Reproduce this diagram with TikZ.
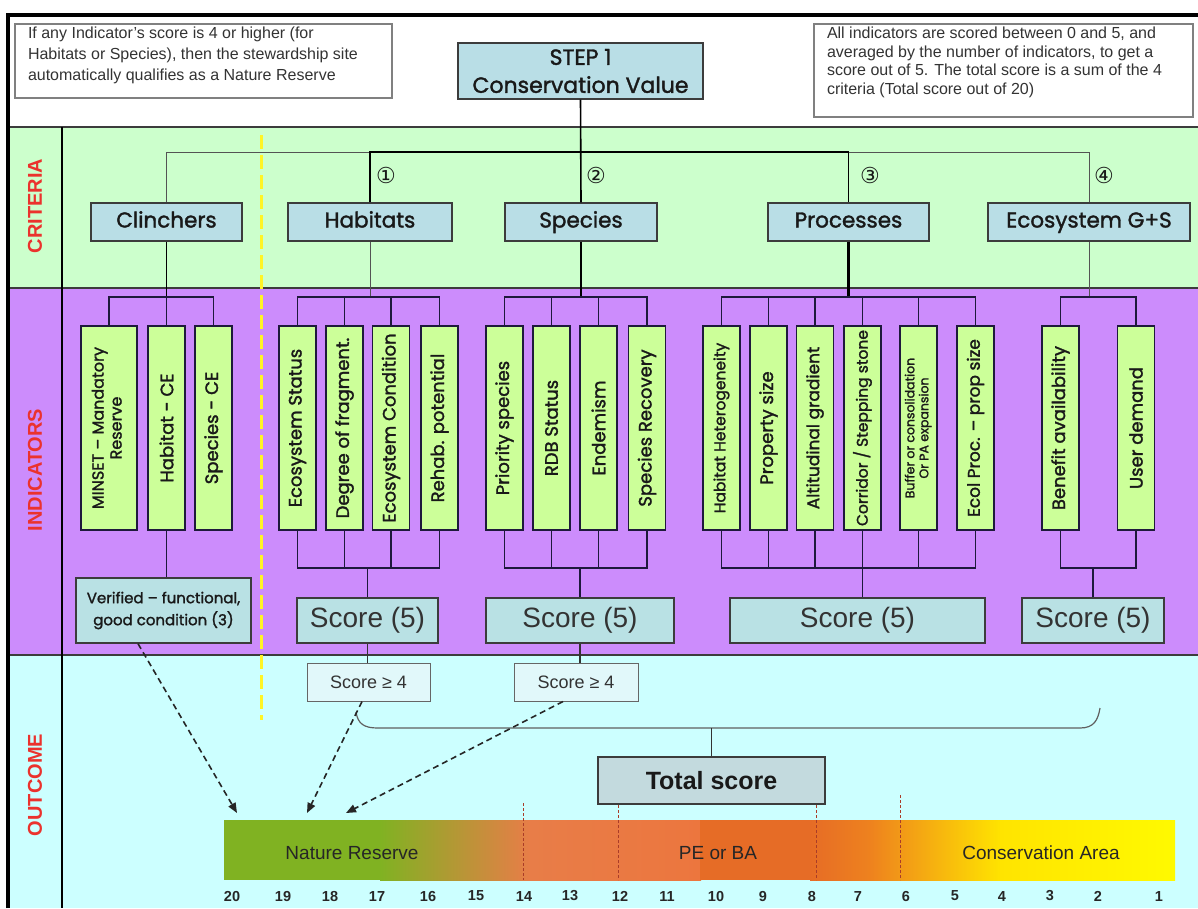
\documentclass[tikz,border=0pt]{standalone}
\usepackage{fontspec}
\setmainfont{Liberation Sans}
\newfontfamily\gothic{Poppins}[FakeBold=1.6]
\newfontfamily\djv{DejaVu Sans}
\usetikzlibrary{calc,arrows.meta}
\newcommand\fsz[2]{\fontsize{#1pt}{#2pt}\selectfont}
\definecolor{bandG}{RGB}{204,255,204}
\definecolor{bandP}{RGB}{204,140,252}
\definecolor{bandC}{RGB}{204,255,255}
\definecolor{critfill}{RGB}{185,222,230}
\definecolor{indfill}{RGB}{204,255,153}
\definecolor{scorefill}{RGB}{185,225,228}
\definecolor{sgfill}{RGB}{225,248,250}
\definecolor{totfill}{RGB}{195,218,222}
\definecolor{lblred}{RGB}{235,50,45}
\definecolor{boxline}{RGB}{60,60,60}
\definecolor{busline}{RGB}{30,25,60}
\definecolor{txt}{RGB}{25,25,25}
\definecolor{markc}{RGB}{170,60,40}
\definecolor{gA}{RGB}{128,178,34}
\definecolor{oA}{RGB}{232,125,72}
\definecolor{oB}{RGB}{236,118,62}
\definecolor{oC}{RGB}{230,108,38}
\definecolor{oD}{RGB}{238,130,30}
\definecolor{yA}{RGB}{255,228,0}
\definecolor{yB}{RGB}{255,250,0}
\begin{document}
\begin{tikzpicture}[x=1pt,y=-1pt,
 crit/.style={draw=boxline, line width=1.3pt, fill=critfill, inner sep=0pt, minimum height=38pt, text height=15pt, text depth=4pt, font=\gothic\fsz{21.5}{24}, text=txt},
 ind/.style={draw=busline, line width=1.3pt, fill=indfill, inner sep=0pt, minimum width=37pt, minimum height=204pt, font=\gothic\fsz{18}{19}, text=txt},
 score/.style={draw=boxline, line width=1.3pt, fill=scorefill, inner sep=0pt, minimum height=45pt, font=\fsz{28}{30}, text=black!80},
 sg/.style={draw=gray!80!black, line width=1pt, fill=sgfill, inner sep=0pt, minimum width=123pt, minimum height=38pt, font=\fsz{18}{20}, text=black!80},
 note/.style={draw=gray, line width=1.2pt, fill=white, inner xsep=13pt, inner ysep=0pt, font=\fsz{16}{19}, text=black!80},
 tbus/.style={draw=gray!65!black, line width=1pt},
 dbus/.style={draw=black, line width=1.6pt},
 kbus/.style={draw=black, line width=2.6pt},
 bus/.style={draw=busline, line width=1.6pt},
 darr/.style={draw=black!85, line width=1.6pt, dash pattern=on 6pt off 4pt, -{Triangle[length=10pt,width=8pt]}},
 lbl/.style={rotate=90, font=\bfseries\fsz{20}{22}, text=lblred},
 num/.style={font=\bfseries\fsz{14.5}{16}, text=black!85},
 barlbl/.style={font=\fsz{19}{21}, text=black!85},
 mk/.style={draw=markc, line width=1pt, dash pattern=on 3pt off 2pt},
 circ/.style={font=\djv\fsz{22}{24}, text=txt}
]
\useasboundingbox (0,0) rectangle (1198,908);
\fill[white] (0,0) rectangle (1198,908);
% bands
\fill[bandG] (8,127) rectangle (1198,288);
\fill[bandP] (8,288) rectangle (1198,655);
\fill[bandC] (8,655) rectangle (1198,908);
\draw[boxline, line width=1.2pt] (8,127) -- (1198,127);
\draw[boxline, line width=1.2pt] (8,288) -- (1198,288);
\draw[boxline, line width=1.2pt] (8,655) -- (1198,655);
\draw[black, line width=1.2pt] (62,127) -- (62,908);
\draw[line width=4pt] (8,908) -- (8,15) -- (1198,15);
% yellow dashed separator
\draw[yellow!85!white, line width=3pt, dash pattern=on 14pt off 6pt] (261,135) -- (261,720);
% side labels
\node[lbl] (lc) at (35,206) {CRITERIA};
\node[lbl] (li) at (35,470) {INDICATORS};
\node[lbl] (lo) at (35,785) {OUTCOME};
% notes
\node[note] (n1) at (203.5,61) {\begin{minipage}[c][74pt][t]{351pt}\vspace*{3pt}\fsz{16}{21}If any Indicator's score is 4 or higher (for\\Habitats or Species), then the stewardship site\\automatically qualifies as a Nature Reserve\end{minipage}};
\node[note] (n2) at (1003.5,70.5) {\begin{minipage}[c][93pt][t]{353pt}\vspace*{3pt}\fsz{16}{18.5}All indicators are scored between 0 and 5, and\\averaged by the number of indicators, to get a\\score out of 5. The total score is a sum of the 4\\criteria (Total score out of 20)\end{minipage}};
% step 1
\node[crit, minimum width=245pt, minimum height=56pt, text height=, text depth=, align=center, font=\gothic\fsz{22}{28}] (step) at (580.5,71) {STEP 1\\Conservation Value};
% criteria
\node[crit, minimum width=151pt] (clin) at (166.5,222) {Clinchers};
\node[crit, minimum width=164pt] (hab) at (370,222) {Habitats};
\node[crit, minimum width=152pt] (spe) at (581,222) {Species};
\node[crit, minimum width=161pt] (pro) at (848.5,222) {Processes};
\node[crit, minimum width=202pt] (eco) at (1089,222) {Ecosystem G+S};
\coordinate (yt) at (0,152);
\coordinate (yb) at (0,297);
\coordinate (yl) at (0,568);
\draw[tbus] (clin.north) -- (clin.north |- yt) -- (hab.north |- yt);
\draw[dbus] (hab.north) -- (hab.north |- yt) -- (pro.north |- yt) -- (pro.north);
\draw[tbus] (pro.north |- yt) -- (eco.north |- yt) -- (eco.north);
\draw[dbus] (step.south) -- (spe.north);
\node[circ] (c1) at (386,175) {①};
\node[circ] (c2) at (596,175) {②};
\node[circ] (c3) at (870,175) {③};
\node[circ] (c4) at (1104,175) {④};
% indicators
\node[ind, minimum width=56pt] (i1) at (109,428) {\rotatebox{90}{\fsz{16}{18}\begin{tabular}{@{}c@{}}MINSET – Mandatory\\Reserve\end{tabular}}};
\node[ind] (i2) at (166.5,428) {\rotatebox{90}{Habitat - CE}};
\node[ind] (i3) at (213.5,428) {\rotatebox{90}{Species - CE}};
\node[ind] (i4) at (297.5,428) {\rotatebox{90}{Ecosystem Status}};
\node[ind] (i5) at (344.5,428) {\rotatebox{90}{Degree of fragment.}};
\node[ind] (i6) at (391,428) {\rotatebox{90}{Ecosystem Condition}};
\node[ind] (i7) at (439.5,428) {\rotatebox{90}{Rehab. potential}};
\node[ind] (i8) at (504.5,428) {\rotatebox{90}{Priority species}};
\node[ind] (i9) at (551.5,428) {\rotatebox{90}{RDB Status}};
\node[ind] (i10) at (598.5,428) {\rotatebox{90}{Endemism}};
\node[ind] (i11) at (647,428) {\rotatebox{90}{Species Recovery}};
\node[ind] (i12) at (721.5,428) {\rotatebox{90}{\fsz{15.5}{17}Habitat Heterogeneity}};
\node[ind] (i13) at (768.5,428) {\rotatebox{90}{Property size}};
\node[ind] (i14) at (815,428) {\rotatebox{90}{\fsz{17}{18}Altitudinal gradient}};
\node[ind] (i15) at (862.5,428) {\rotatebox{90}{\fsz{15.5}{17}Corridor / Stepping stone}};
\node[ind] (i16) at (918.5,428) {\rotatebox{90}{\fsz{12.5}{14}\begin{tabular}{@{}c@{}}Buffer or consolidation\\Or PA expansion\end{tabular}}};
\node[ind] (i17) at (975.5,428) {\rotatebox{90}{\fsz{17}{18}Ecol Proc. – prop size}};
\node[ind] (i18) at (1060.5,428) {\rotatebox{90}{Benefit availability}};
\node[ind] (i19) at (1136,428) {\rotatebox{90}{User demand}};
% criteria -> indicator buses
\draw[dbus] (clin.south) -- (clin.south |- yb);
\draw[tbus] (hab.south) -- (hab.south |- yb);
\draw[kbus] (spe.south) -- (spe.south |- yb);
\draw[kbus] (pro.south) -- (pro.south |- yb);
\draw[tbus] (eco.south) -- (eco.south |- yb);
\draw[bus] (i1.north) -- (i1.north |- yb) -- (i3.north |- yb) -- (i3.north);
\draw[bus] (i2.north) -- (i2.north |- yb);
\draw[bus] (i4.north) -- (i4.north |- yb) -- (i7.north |- yb) -- (i7.north);
\draw[bus] (i5.north) -- (i5.north |- yb);
\draw[bus] (i6.north) -- (i6.north |- yb);
\draw[bus] (i8.north) -- (i8.north |- yb) -- (i11.north |- yb) -- (i11.north);
\draw[bus] (i9.north) -- (i9.north |- yb);
\draw[bus] (i10.north) -- (i10.north |- yb);
\draw[bus] (i12.north) -- (i12.north |- yb) -- (i17.north |- yb) -- (i17.north);
\foreach \k in {13,14,15,16} \draw[bus] (i\k.north) -- (i\k.north |- yb);
\draw[bus] (i18.north) -- (i18.north |- yb) -- (i19.north |- yb) -- (i19.north);
% lower buses
\draw[bus] (i4.south) -- (i4.south |- yl) -- (i7.south |- yl) -- (i7.south);
\draw[bus] (i5.south) -- (i5.south |- yl);
\draw[bus] (i6.south) -- (i6.south |- yl);
\draw[bus] (i8.south) -- (i8.south |- yl) -- (i11.south |- yl) -- (i11.south);
\draw[bus] (i9.south) -- (i9.south |- yl);
\draw[bus] (i10.south) -- (i10.south |- yl);
\draw[bus] (i12.south) -- (i12.south |- yl) -- (i17.south |- yl) -- (i17.south);
\foreach \k in {13,14,16} \draw[bus] (i\k.south) -- (i\k.south |- yl);
\draw[bus] (i18.south) -- (i18.south |- yl) -- (i19.south |- yl) -- (i19.south);
% verified and scores
\node[crit, minimum width=175pt, minimum height=65pt, text height=, text depth=, fill=scorefill, align=center, font=\gothic\fsz{15}{22}] (ver) at (163.5,610.5) {Verified – functional,\\good condition (3)};
\node[score, minimum width=141pt] (hs) at (367.5,620.5) {Score (5)};
\node[score, minimum width=188pt] (ss) at (580,620.5) {Score (5)};
\node[score, minimum width=255pt] (ps) at (857.5,620.5) {Score (5)};
\node[score, minimum width=142pt] (es) at (1093,620.5) {Score (5)};
\draw[bus] (i2.south) -- (i2.south |- ver.north);
\draw[bus] (hs.north |- yl) -- (hs.north);
\draw[bus] (ss.north |- yl) -- (ss.north);
\draw[bus] (i15.south) -- (i15.south |- ps.north);
\draw[bus] (es.north |- yl) -- (es.north);
% outcome
\node[sg] (sg1) at (368.5,682) {Score ≥ 4};
\node[sg, minimum width=124pt] (sg2) at (576,682) {Score ≥ 4};
\draw[black!80, line width=1.2pt] (hs.south) -- (hs.south |- sg1.north);
\draw[black!80, line width=1.2pt] (ss.south) -- (ss.south |- sg2.north);
\node[draw=boxline, line width=1.5pt, fill=totfill, minimum width=227pt, minimum height=47pt, inner sep=0pt, font=\bfseries\fsz{25}{27}, text=txt] (tot) at (711.5,780.5) {Total score};
\coordinate (bm) at (tot.north |- 0,728);
\draw[gray!75!black, line width=1.2pt] (356,712) .. controls (358,724) and (364,728) .. (378,728) -- (1080,728) .. controls (1094,728) and (1098,720) .. (1100,708);
\draw[black!80, line width=1.2pt] (bm) -- (tot.north);
% gradient bar
\fill[gA] (224,820) rectangle (381,880);
\shade[left color=gA, right color=oA] (380,820) rectangle (531,880);
\shade[left color=oA, right color=oB] (530,820) rectangle (701,880);
\fill[oC] (700,820) rectangle (811,880);
\shade[left color=oC, right color=oD] (810,820) rectangle (871,880);
\shade[left color=oD, right color=yA] (870,820) rectangle (1001,880);
\shade[left color=yA, right color=yB] (1000,820) rectangle (1175,880);
\draw[mk] (523,803) -- (523,880);
\draw[mk] (618,805) -- (618,880);
\draw[mk] (816,805) -- (816,880);
\draw[mk] (900,795) -- (900,880);
\node[barlbl] (nr) at (352,853) {Nature Reserve};
\node[barlbl] (pe) at (718,853) {PE or BA};
\node[barlbl] (ca) at (1041,853) {Conservation Area};
\foreach \x/\n in {232/20,283/19,330/18,377/17,428/16,476/15,524/14,570/13,620/12,667/11,716/10,763/9,812/8,858/7,906/6,955/5,1002/4,1050/3,1098/2,1159/1}
  \node[num] (s\n) at (\x,896) {\n};
% dashed arrows
\coordinate (t1) at (237,813);
\coordinate (t2) at (307,813);
\coordinate (t3) at (346,813);
\draw[darr] ([xshift=-25.5pt]ver.south) -- (t1);
\draw[darr] ([xshift=-6.5pt]sg1.south) -- (t2);
\draw[darr] ([xshift=-13pt]sg2.south) -- (t3);
\end{tikzpicture}
\end{document}
